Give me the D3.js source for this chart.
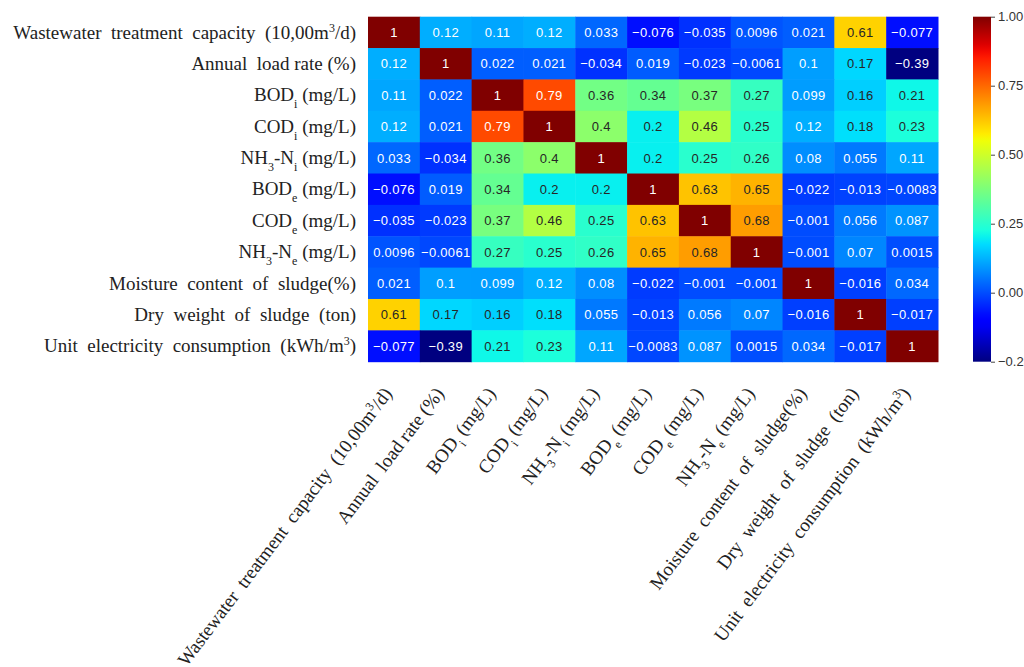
<!DOCTYPE html>
<html>
<head>
<meta charset="utf-8">
<script src="https://cdn.jsdelivr.net/npm/d3@7"></script>
<style>
  body { margin: 0; background: #fff; }
  .lab { font-family: "Liberation Serif", "Times New Roman", serif; font-size: 19px; fill: #222; }
  .cell-txt { font-family: "Liberation Sans", Arial, sans-serif; font-size: 13px; letter-spacing: 0.3px; }
  .cbar text { font-family: "Liberation Sans", Arial, sans-serif; font-size: 13px; fill: #333; }
</style>
</head>
<body>
<div id="chart"></div>
<script>
// variable names, _{..} is subscript and ^{..} superscript
const variables = [
    "Wastewater  treatment  capacity  (10,00m^{3}/d)",
    "Annual  load rate (%)",
    "BOD_{i} (mg/L)",
    "COD_{i} (mg/L)",
    "NH_{3}-N_{i} (mg/L)",
    "BOD_{e} (mg/L)",
    "COD_{e} (mg/L)",
    "NH_{3}-N_{e} (mg/L)",
    "Moisture  content  of  sludge(%)",
    "Dry  weight  of  sludge  (ton)",
    "Unit  electricity  consumption  (kWh/m^{3})"
];

// correlation matrix, one row per variable
const corr = [
    [1, 0.12, 0.11, 0.12, 0.033, -0.076, -0.035, 0.0096, 0.021, 0.61, -0.077],
    [0.12, 1, 0.022, 0.021, -0.034, 0.019, -0.023, -0.0061, 0.1, 0.17, -0.39],
    [0.11, 0.022, 1, 0.79, 0.36, 0.34, 0.37, 0.27, 0.099, 0.16, 0.21],
    [0.12, 0.021, 0.79, 1, 0.4, 0.2, 0.46, 0.25, 0.12, 0.18, 0.23],
    [0.033, -0.034, 0.36, 0.4, 1, 0.2, 0.25, 0.26, 0.08, 0.055, 0.11],
    [-0.076, 0.019, 0.34, 0.2, 0.2, 1, 0.63, 0.65, -0.022, -0.013, -0.0083],
    [-0.035, -0.023, 0.37, 0.46, 0.25, 0.63, 1, 0.68, -0.001, 0.056, 0.087],
    [0.0096, -0.0061, 0.27, 0.25, 0.26, 0.65, 0.68, 1, -0.001, 0.07, 0.0015],
    [0.021, 0.1, 0.099, 0.12, 0.08, -0.022, -0.001, -0.001, 1, -0.016, 0.034],
    [0.61, 0.17, 0.16, 0.18, 0.055, -0.013, 0.056, 0.07, -0.016, 1, -0.017],
    [-0.077, -0.39, 0.21, 0.23, 0.11, -0.0083, 0.087, 0.0015, 0.034, -0.017, 1]
];

const colorbarTicks = [-0.25, 0, 0.25, 0.5, 0.75, 1];
const vmin = -0.25, vmax = 1;

const width = 1024, height = 667;
const grid = { left: 368, right: 938, top: 16.7, bottom: 361.7 };

// matplotlib "jet" colormap
const jetR = d3.scaleLinear().domain([0, 0.35, 0.66, 0.89, 1]).range([0, 0, 1, 1, 0.5]).clamp(true);
const jetG = d3.scaleLinear().domain([0, 0.125, 0.375, 0.64, 0.91, 1]).range([0, 0, 1, 1, 0, 0]).clamp(true);
const jetB = d3.scaleLinear().domain([0, 0.11, 0.34, 0.65, 1]).range([0.5, 1, 1, 0, 0]).clamp(true);
const norm = d3.scaleLinear().domain([vmin, vmax]).clamp(true);

function jetRgb(v) {
    let t = norm(v);
    return [jetR(t), jetG(t), jetB(t)];
}
function jet(v) {
    let c = jetRgb(v);
    return d3.rgb(c[0] * 255, c[1] * 255, c[2] * 255).formatHex();
}
// same text contrast rule as seaborn annotations
function textColor(v) {
    let lin = c => c <= 0.03928 ? c / 12.92 : Math.pow((c + 0.055) / 1.055, 2.4);
    let c = jetRgb(v);
    let lum = 0.2126 * lin(c[0]) + 0.7152 * lin(c[1]) + 0.0722 * lin(c[2]);
    return lum > 0.408 ? "#262626" : "#ffffff";
}

function parseLabel(s) {
    let parts = [];
    let re = /([_^])\{([^}]*)\}/g;
    let last = 0, m;
    while ((m = re.exec(s)) !== null) {
        if (m.index > last) parts.push({ t: s.slice(last, m.index), shift: null });
        parts.push({ t: m[2], shift: m[1] === "_" ? "sub" : "super" });
        last = re.lastIndex;
    }
    if (last < s.length) parts.push({ t: s.slice(last), shift: null });
    return parts;
}

function writeLabel(sel, s) {
    parseLabel(s).forEach(p => {
        let ts = sel.append("tspan").text(p.t);
        if (p.shift) {
            ts.attr("baseline-shift", p.shift).style("font-size", "12px");
        }
    });
}

const svg = d3.select("#chart").append("svg")
    .attr("width", width).attr("height", height)
    .style("background", "#fff");

const x = d3.scaleBand().domain(d3.range(variables.length)).range([grid.left, grid.right]);
const y = d3.scaleBand().domain(d3.range(variables.length)).range([grid.top, grid.bottom]);

let cells = [];
corr.forEach((row, i) => row.forEach((v, j) => cells.push({ i: i, j: j, v: v })));

const fmt = d3.format(".2~g");

let g = svg.append("g");
g.selectAll("rect.cell").data(cells).join("rect")
    .attr("class", "cell")
    .attr("x", d => x(d.j))
    .attr("y", d => y(d.i))
    .attr("width", x.bandwidth() + 0.5)
    .attr("height", y.bandwidth() + 0.5)
    .attr("fill", d => jet(d.v));

g.selectAll("text.cell-txt").data(cells).join("text")
    .attr("class", "cell-txt")
    .attr("x", d => x(d.j) + x.bandwidth() / 2)
    .attr("y", d => y(d.i) + y.bandwidth() / 2)
    .attr("dy", "0.36em")
    .attr("text-anchor", "middle")
    .attr("fill", d => textColor(d.v))
    .text(d => fmt(d.v));

// row labels
svg.append("g").selectAll("text").data(variables).join("text")
    .attr("class", "lab")
    .attr("x", 356)
    .attr("y", (d, i) => y(i) + y.bandwidth() / 2)
    .attr("dy", "0.33em")
    .attr("text-anchor", "end")
    .style("white-space", "pre")
    .each(function(d) { writeLabel(d3.select(this), d); });

// column labels, rotated
svg.append("g").selectAll("text").data(variables).join("text")
    .attr("class", "lab")
    .attr("text-anchor", "end")
    .style("white-space", "pre")
    .attr("transform", (d, i) => `translate(${x(i) + x.bandwidth() / 2 - 1},${grid.bottom + 32}) rotate(-53)`)
    .each(function(d) { writeLabel(d3.select(this), d); });

// colorbar
const cb = { x: 973, w: 18 };
const cbScale = d3.scaleLinear().domain([vmin, vmax]).range([grid.bottom, grid.top]);

let defs = svg.append("defs");
let grad = defs.append("linearGradient").attr("id", "jetgrad")
    .attr("x1", 0).attr("y1", 1).attr("x2", 0).attr("y2", 0);
d3.range(0, 1.0001, 0.02).forEach(t => {
    grad.append("stop").attr("offset", t).attr("stop-color", jet(vmin + t * (vmax - vmin)));
});

svg.append("rect")
    .attr("x", cb.x).attr("y", grid.top)
    .attr("width", cb.w).attr("height", grid.bottom - grid.top)
    .attr("fill", "url(#jetgrad)");

let cbAxis = svg.append("g").attr("class", "cbar")
    .attr("transform", `translate(${cb.x + cb.w},0)`)
    .call(d3.axisRight(cbScale).tickValues(colorbarTicks).tickFormat(d3.format(".2f")).tickSize(4).tickPadding(3));
cbAxis.select(".domain").remove();
cbAxis.selectAll("line").attr("stroke", "#444");
</script>
</body>
</html>
